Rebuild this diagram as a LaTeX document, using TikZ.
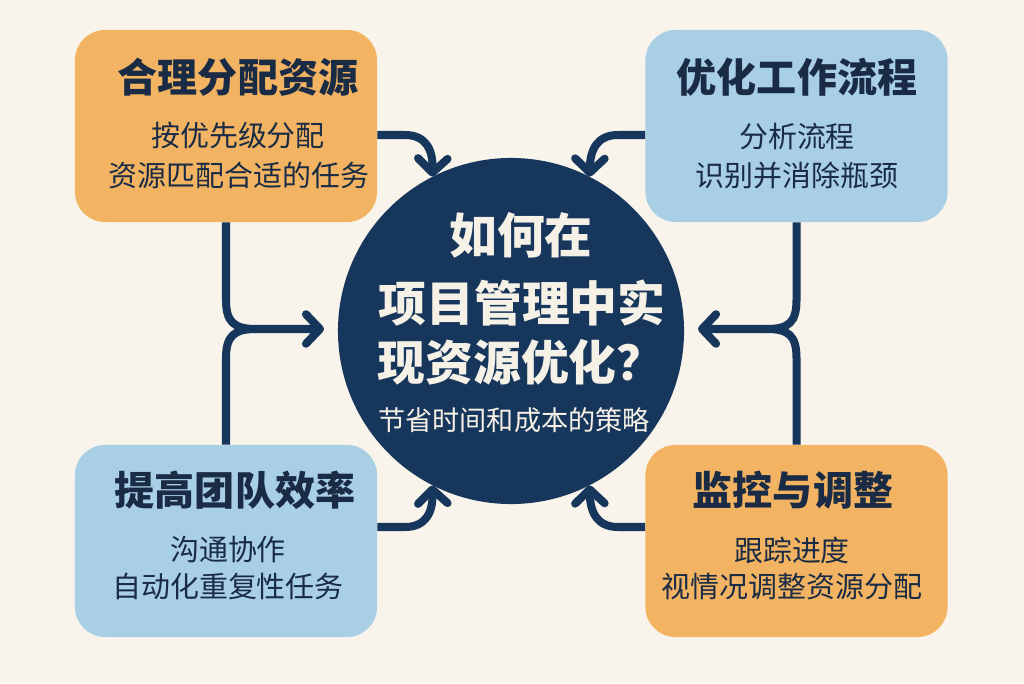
\documentclass[tikz,border=0pt]{standalone}
\usepackage{fontspec}
\newfontfamily\cjk{Noto Sans CJK SC}
\usetikzlibrary{arrows.meta}
\definecolor{bg}{HTML}{F8F4EB}
\definecolor{orangebox}{HTML}{F2B462}
\definecolor{bluebox}{HTML}{A9CFE4}
\definecolor{navy}{HTML}{17365C}
\definecolor{ink}{HTML}{1A2B45}
\definecolor{cream}{HTML}{F6F1E6}
\tikzset{
  card/.style={rounded corners=0.75cm, minimum width=7.55cm, minimum height=4.8cm, inner sep=0pt},
  ocard/.style={card, fill=orangebox},
  bcard/.style={card, fill=bluebox},
  cardtitle/.style={text=ink, inner sep=0pt, font=\cjk\bfseries\fontsize{28.5}{32}\selectfont},
  cardtext/.style={text=ink, inner sep=0pt, font=\cjk\fontsize{20.6}{24}\selectfont},
  hubtitle/.style={text=cream, inner sep=0pt, font=\cjk\bfseries\fontsize{34}{40}\selectfont},
  hubtext/.style={text=cream, inner sep=0pt, font=\cjk\fontsize{19.3}{23}\selectfont},
  conn/.style={draw=navy, line width=5.7pt},
  tip/.style={-{Straight Barb[length=10pt,width=21pt,round]}}
}
\begin{document}
\begin{tikzpicture}[x=0.025cm,y=-0.025cm]
\useasboundingbox (0,0) rectangle (1024,683);
\fill[bg] (0,0) rectangle (1024,683);

% hub
\node[circle, fill=navy, minimum size=8.65cm, inner sep=0pt] (c) at (511,331) {};
\node[hubtitle] (h1) at (521,235) {如何在};
\node[hubtitle] (h2) at (522,303) {项目管理中实};
\node[hubtitle] (h3) at (521,362) {现资源优化？};
\node[hubtext] (h4) at (514,420) {节省时间和成本的策略};

% cards
\node[ocard] (tl) at (226,126) {};
\node[bcard] (tr) at (796.5,126) {};
\node[bcard] (bl) at (226,541) {};
\node[ocard] (br) at (796.5,541) {};

\node[cardtitle] (tlt) at (238,77) {合理分配资源};
\node[cardtext] (tl1) at (238,135) {按优先级分配};
\node[cardtext] (tl2) at (239,175) {资源匹配合适的任务};

\node[cardtitle] (trt) at (797,77) {优化工作流程};
\node[cardtext] (tr1) at (797,137) {分析流程};
\node[cardtext] (tr2) at (797,175) {识别并消除瓶颈};

\node[cardtitle] (blt) at (235,490) {提高团队效率};
\node[cardtext] (bl1) at (228,550) {沟通协作};
\node[cardtext] (bl2) at (228,586) {自动化重复性任务};

\node[cardtitle] (brt) at (793,490) {监控与调整};
\node[cardtext] (br1) at (792,550) {跟踪进度};
\node[cardtext] (br2) at (792,587) {视情况调整资源分配};

% helper coordinates
\coordinate (a135) at (0,135);
\coordinate (a527) at (0,527);
\coordinate (m1) at (324,329);
\coordinate (m2) at (698,329);

% corner arrows
\draw[conn,tip] (tl.east |- a135) -- (405,135) .. controls (426,135) and (433,150) .. (c.117);
\draw[conn,tip] (tr.west |- a135) -- (618,135) .. controls (597,135) and (590,150) .. (c.63);
\draw[conn,tip] (bl.east |- a527) -- (405,527) .. controls (426,527) and (433,512) .. (c.243);
\draw[conn,tip] (br.west |- a527) -- (618,527) .. controls (597,527) and (590,512) .. (c.297);

% left merge
\draw[conn,tip] (tl.south) -- (226,300) .. controls (226,322) and (234,329) .. (256,329) -- (m1);
\draw[conn] (bl.north) -- (226,358) .. controls (226,336) and (234,329) .. (256,329);
% right merge
\draw[conn,tip] (tr.south) -- (796.5,300) .. controls (796.5,322) and (789,329) .. (767,329) -- (m2);
\draw[conn] (br.north) -- (796.5,358) .. controls (796.5,336) and (789,329) .. (767,329);
\end{tikzpicture}
\end{document}
